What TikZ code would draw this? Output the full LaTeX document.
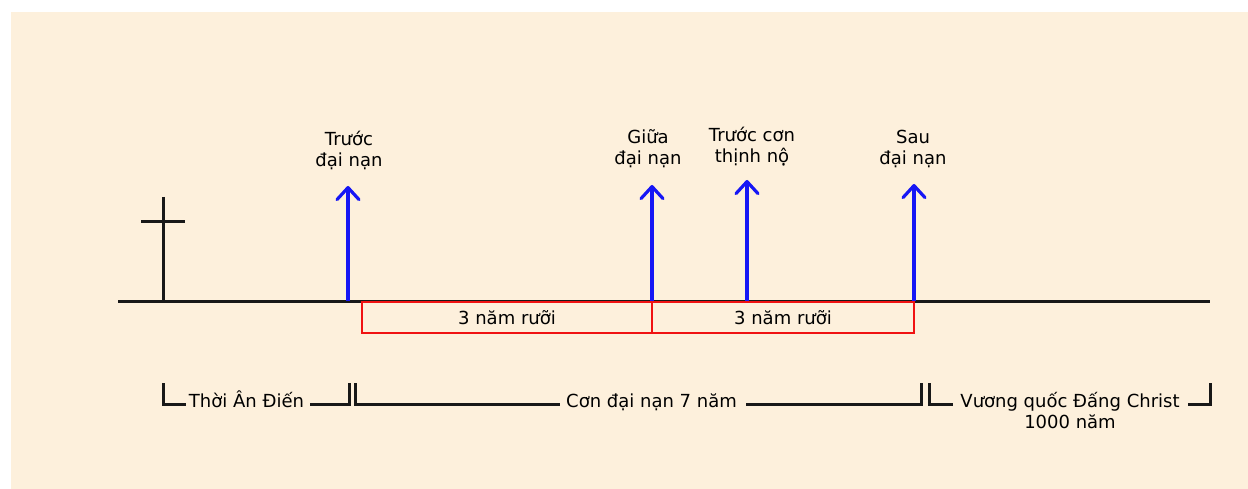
\documentclass[tikz,border=0pt]{standalone}
\usepackage{fontspec}
\setmainfont{DejaVu Sans}
\usetikzlibrary{arrows.meta}
\definecolor{cream}{RGB}{253,240,220}
\definecolor{tlblack}{RGB}{24,24,24}
\definecolor{arrblue}{RGB}{22,22,245}
\definecolor{boxred}{RGB}{240,18,18}
\tikzset{
  txt/.style={inner sep=0pt, font=\fontsize{18}{21}\selectfont, text=black, align=center},
  timeline/.style={draw=tlblack, line width=3pt},
  upar/.style={draw=arrblue, line width=3.2pt, -{Straight Barb[length=12pt,width=22pt,round]}},
  period/.style={draw=boxred, line width=2.8pt, minimum height=31pt, inner sep=0pt, font=\fontsize{18}{21}\selectfont},
  bracket/.style={draw=tlblack, line width=3pt, line cap=butt, line join=miter},
}
\begin{document}
\begin{tikzpicture}[x=1pt,y=-1pt]
\useasboundingbox (0,0) rectangle (1248,489);
\fill[white] (0,0) rectangle (1248,489);
\fill[cream] (11,12) rectangle (1248,489);

% timeline
\coordinate (tlL) at (118,301);
\coordinate (tlR) at (1210,301);
\draw[timeline] (tlL) -- (tlR);

% cross
\coordinate (crossTop) at (163,197);
\coordinate (crossBot) at (163,301);
\coordinate (barL) at (141,222);
\coordinate (barR) at (185,222);
\draw[timeline] (crossTop) -- (crossBot);
\draw[timeline] (barL) -- (barR);

% arrows
\coordinate (a1b) at (348,301); \coordinate (a1t) at (348,186);
\coordinate (a2b) at (652,301); \coordinate (a2t) at (652,185);
\coordinate (a3b) at (747,301); \coordinate (a3t) at (747,180);
\coordinate (a4b) at (914,301); \coordinate (a4t) at (914,184);
\draw[upar] (a1b) -- (a1t);
\draw[upar] (a2b) -- (a2t);
\draw[upar] (a3b) -- (a3t);
\draw[upar] (a4b) -- (a4t);

% labels above arrows (base = baseline of last line)
\node[txt, anchor=base] (l1) at (349,167) {Trước\\đại nạn};
\node[txt, anchor=base] (l2) at (648,165) {Giữa\\đại nạn};
\node[txt, anchor=base] (l3) at (752,163) {Trước cơn\\thịnh nộ};
\node[txt, anchor=base] (l4) at (913,165) {Sau\\đại nạn};

% red boxes
\node[period, minimum width=290pt] (p1) at (507,317.5) {3 năm rưỡi};
\node[period, minimum width=262pt] (p2) at (783,317.5) {3 năm rưỡi};

% bottom periods
\node[txt, anchor=base] (grace) at (246.5,407) {Thời Ân Điến};
\node[txt, anchor=base] (trib) at (651.5,407) {Cơn đại nạn 7 năm};
\node[txt, anchor=base] (king) at (1070,428) {Vương quốc Đấng Christ\\1000 năm};

\coordinate (g1) at (163,383); \coordinate (g2) at (186,404);
\coordinate (g3) at (310,404); \coordinate (g4) at (349,383);
\draw[bracket] (g1) |- (g2);
\draw[bracket] (g3) -| (g4);

\coordinate (t1) at (355,383); \coordinate (t2) at (560,404);
\coordinate (t3) at (746,404); \coordinate (t4) at (921,383);
\draw[bracket] (t1) |- (t2);
\draw[bracket] (t3) -| (t4);

\coordinate (k1) at (929,383); \coordinate (k2) at (953,404);
\coordinate (k3) at (1188,404); \coordinate (k4) at (1210,383);
\draw[bracket] (k1) |- (k2);
\draw[bracket] (k3) -| (k4);
\end{tikzpicture}
\end{document}
